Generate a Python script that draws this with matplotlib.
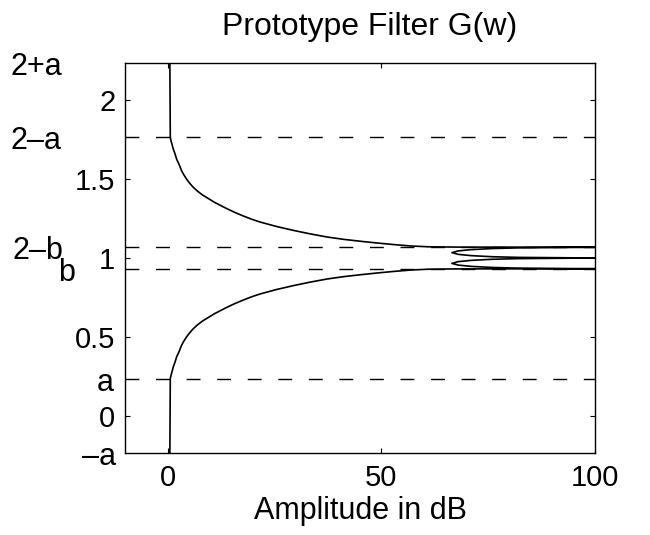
import matplotlib
matplotlib.use("Agg")
import matplotlib.pyplot as plt

plt.rcParams['font.family'] = ['Liberation Sans', 'DejaVu Sans']

# band parameters
a = 0.235
b = 0.932

# frequency (vertical) and attenuation in dB (horizontal) of the prototype filter
freq = [-0.235, 0.235, 0.25, 0.28, 0.31, 0.34, 0.375, 0.41, 0.445, 0.47, 0.50,
        0.525, 0.55, 0.575, 0.60, 0.625, 0.645, 0.665, 0.687, 0.71, 0.734, 0.755,
        0.772, 0.80, 0.825, 0.847, 0.867, 0.882, 0.894, 0.905, 0.915, 0.924, 0.929,
        0.931, 0.932,
        0.933, 0.936, 0.940, 0.947, 0.955, 0.966, 0.977, 0.985, 0.992, 0.996, 0.999,
        1.000,
        1.001, 1.004, 1.008, 1.015, 1.023, 1.034, 1.045, 1.053, 1.060, 1.064, 1.067,
        1.068, 1.069, 1.071, 1.076, 1.085, 1.095, 1.106, 1.118, 1.133, 1.153, 1.175,
        1.20, 1.228, 1.245, 1.266, 1.29, 1.313, 1.335, 1.355, 1.375, 1.40, 1.425,
        1.45, 1.475, 1.50, 1.53, 1.555, 1.59, 1.625, 1.66, 1.69, 1.72, 1.75, 1.765,
        2.235]
atten = [0.5, 0.6, 0.7, 1.0, 1.3, 1.7, 2.1, 2.7, 3.2, 3.7, 4.4,
         5.1, 5.9, 6.9, 8.1, 9.6, 10.8, 12.2, 13.8, 15.6, 17.7, 19.7,
         21.6, 25.4, 29.4, 33.3, 37.3, 41.2, 45.1, 49.0, 52.9, 57.0, 61.0,
         68.0, 150.0,
         95.0, 82.0, 76.0, 71.0, 68.0, 66.5, 68.0, 71.0, 76.0, 82.0, 95.0,
         150.0,
         95.0, 82.0, 76.0, 71.0, 68.0, 66.5, 68.0, 71.0, 76.0, 82.0, 95.0,
         150.0, 68.0, 61.0, 57.0, 52.9, 49.0, 45.1, 41.2, 37.3, 33.3, 29.4,
         25.4, 21.6, 19.7, 17.7, 15.6, 13.8, 12.2, 10.8, 9.6, 8.1, 6.9,
         5.9, 5.1, 4.4, 3.7, 3.2, 2.7, 2.1, 1.7, 1.3, 1.0, 0.7, 0.6,
         0.5]

levels = [a, b, 2 - b, 2 - a]
level_labels = ["2+a", "2\u2013a", "2\u2013b", "b", "a", "\u2013a"]
level_values = [2 + a, 2 - a, 2 - b, b, a, -a]
label_x_px = [10, 10, 12, 58, 97, 82]

xticks = [0, 50, 100]
yticks = [0, 0.5, 1, 1.5, 2]
ytick_labels = ["0", "0.5", "1", "1.5", "2"]

W, H = 650, 535
fig = plt.figure(figsize=(W / 100, H / 100), dpi=100)
ax = fig.add_axes([125 / W, 1 - 453 / H, 470 / W, 390 / H])

ax.plot(atten, freq, color='black', lw=1.2, solid_joinstyle='round')
for lv in levels:
    ax.axhline(lv, color='black', lw=1.0, dashes=(10, 12))

ax.set_xlim(-10, 100)
ax.set_ylim(-a, 2 + a)
ax.set_xticks(xticks)
ax.set_yticks(yticks)
ax.set_yticklabels(ytick_labels)
ax.tick_params(direction='in', top=True, right=True, length=3.6, width=0.8,
               labelsize=21)
ax.tick_params(axis='x', pad=8)
ax.tick_params(axis='y', pad=7)
for sp in ax.spines.values():
    sp.set_linewidth(1.0)

for txt, val, xp in zip(level_labels, level_values, label_x_px):
    ax.annotate(txt, xy=(xp / W, val), xycoords=('figure fraction', 'data'),
                xytext=(0, -12 * 0.72), textcoords='offset points',
                ha='left', va='baseline', fontsize=22, annotation_clip=False)

ax.set_title("Prototype Filter G(w)", fontsize=23, pad=20, x=0.52)
ax.set_xlabel("Amplitude in dB", fontsize=22, labelpad=3)

fig.savefig("out.png", dpi=100)
